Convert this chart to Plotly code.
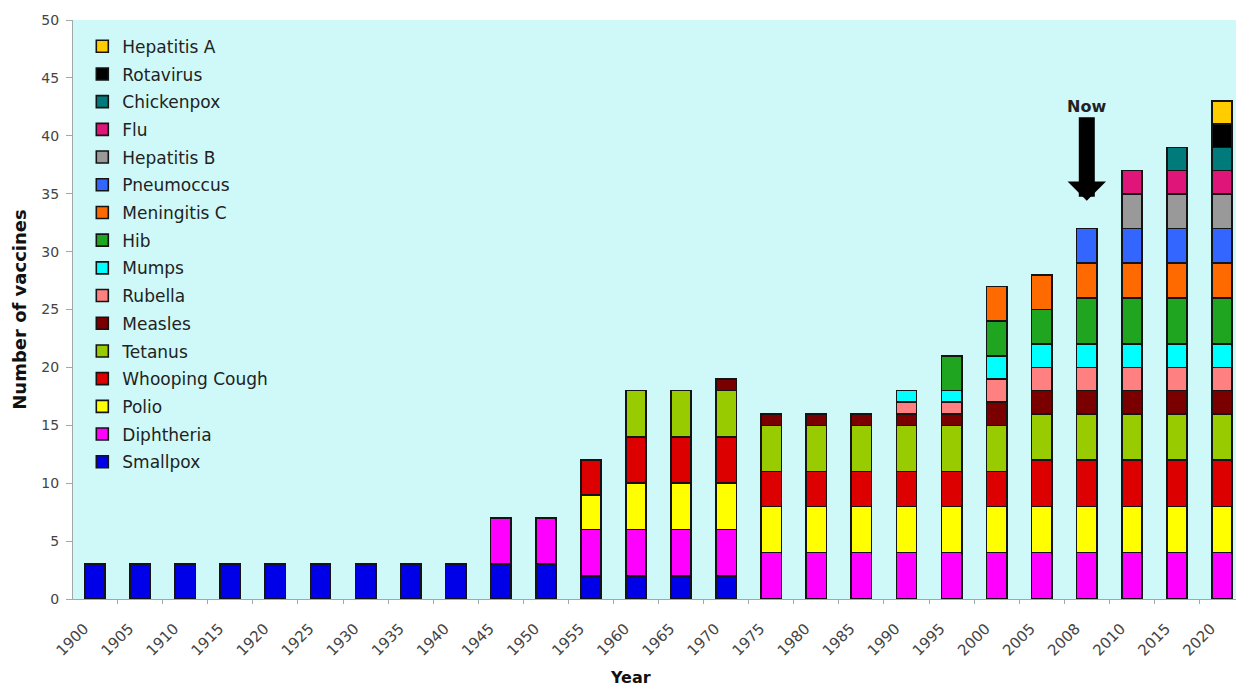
import plotly.graph_objects as go

years = ["1900", "1905", "1910", "1915", "1920", "1925", "1930", "1935", "1940",
         "1945", "1950", "1955", "1960", "1965", "1970",
         "1975", "1980", "1985", "1990", "1995",
         "2000", "2005", "2008", "2010", "2015", "2020"]

smallpox     = [3, 3, 3, 3, 3, 3, 3, 3, 3, 3, 3, 2, 2, 2, 2, 0, 0, 0, 0, 0, 0, 0, 0, 0, 0, 0]
diphtheria   = [0, 0, 0, 0, 0, 0, 0, 0, 0, 4, 4, 4, 4, 4, 4, 4, 4, 4, 4, 4, 4, 4, 4, 4, 4, 4]
polio        = [0, 0, 0, 0, 0, 0, 0, 0, 0, 0, 0, 3, 4, 4, 4, 4, 4, 4, 4, 4, 4, 4, 4, 4, 4, 4]
whooping     = [0, 0, 0, 0, 0, 0, 0, 0, 0, 0, 0, 3, 4, 4, 4, 3, 3, 3, 3, 3, 3, 4, 4, 4, 4, 4]
tetanus      = [0, 0, 0, 0, 0, 0, 0, 0, 0, 0, 0, 0, 4, 4, 4, 4, 4, 4, 4, 4, 4, 4, 4, 4, 4, 4]
measles      = [0, 0, 0, 0, 0, 0, 0, 0, 0, 0, 0, 0, 0, 0, 1, 1, 1, 1, 1, 1, 2, 2, 2, 2, 2, 2]
rubella      = [0, 0, 0, 0, 0, 0, 0, 0, 0, 0, 0, 0, 0, 0, 0, 0, 0, 0, 1, 1, 2, 2, 2, 2, 2, 2]
mumps        = [0, 0, 0, 0, 0, 0, 0, 0, 0, 0, 0, 0, 0, 0, 0, 0, 0, 0, 1, 1, 2, 2, 2, 2, 2, 2]
hib          = [0, 0, 0, 0, 0, 0, 0, 0, 0, 0, 0, 0, 0, 0, 0, 0, 0, 0, 0, 3, 3, 3, 4, 4, 4, 4]
meningitis_c = [0, 0, 0, 0, 0, 0, 0, 0, 0, 0, 0, 0, 0, 0, 0, 0, 0, 0, 0, 0, 3, 3, 3, 3, 3, 3]
pneumoccus   = [0, 0, 0, 0, 0, 0, 0, 0, 0, 0, 0, 0, 0, 0, 0, 0, 0, 0, 0, 0, 0, 0, 3, 3, 3, 3]
hepatitis_b  = [0, 0, 0, 0, 0, 0, 0, 0, 0, 0, 0, 0, 0, 0, 0, 0, 0, 0, 0, 0, 0, 0, 0, 3, 3, 3]
flu          = [0, 0, 0, 0, 0, 0, 0, 0, 0, 0, 0, 0, 0, 0, 0, 0, 0, 0, 0, 0, 0, 0, 0, 2, 2, 2]
chickenpox   = [0, 0, 0, 0, 0, 0, 0, 0, 0, 0, 0, 0, 0, 0, 0, 0, 0, 0, 0, 0, 0, 0, 0, 0, 2, 2]
rotavirus    = [0, 0, 0, 0, 0, 0, 0, 0, 0, 0, 0, 0, 0, 0, 0, 0, 0, 0, 0, 0, 0, 0, 0, 0, 0, 2]
hepatitis_a  = [0, 0, 0, 0, 0, 0, 0, 0, 0, 0, 0, 0, 0, 0, 0, 0, 0, 0, 0, 0, 0, 0, 0, 0, 0, 2]

series_names = ["Smallpox", "Diphtheria", "Polio", "Whooping Cough", "Tetanus", "Measles",
                "Rubella", "Mumps", "Hib", "Meningitis C", "Pneumoccus", "Hepatitis B",
                "Flu", "Chickenpox", "Rotavirus", "Hepatitis A"]
series_values = [smallpox, diphtheria, polio, whooping, tetanus, measles, rubella, mumps,
                 hib, meningitis_c, pneumoccus, hepatitis_b, flu, chickenpox, rotavirus,
                 hepatitis_a]
series_colors = ["#0000E8", "#FF00FF", "#FFFF00", "#DD0000", "#99CC00", "#7A0000",
                 "#FF8080", "#00FFFF", "#1FA51F", "#FF6A00", "#3366FF", "#999999",
                 "#E0157A", "#007A7A", "#000000", "#FFCC00"]

y_ticks = [0, 5, 10, 15, 20, 25, 30, 35, 40, 45, 50]
now_year = "2008"
now_index = years.index(now_year)

fig = go.Figure()
for i, (name, vals, col) in enumerate(zip(series_names, series_values, series_colors)):
    fig.add_trace(go.Bar(
        x=years,
        y=[v if v else None for v in vals],
        name=name,
        legendgroup="g%d" % i,
        legendrank=100 - i,
        marker=dict(color=col, line=dict(color="#141414", width=1.6)),
    ))

fig.add_annotation(x=now_index, y=34.4, xref="x", yref="y", ax=0, ay=-92,
                   showarrow=True, arrowhead=1, arrowwidth=16, arrowsize=0.4,
                   arrowcolor="#000000", text=" ")
fig.add_annotation(x=now_index, y=42.5, xref="x", yref="y", showarrow=False,
                   text="<b>Now</b>", font=dict(family="DejaVu Sans", size=16, color="#222222"))
fig.add_annotation(x=0.479, y=-0.155, xref="paper", yref="paper", showarrow=False,
                   text="<b>Year</b>", font=dict(family="DejaVu Sans", size=16, color="#111111"))

fig.update_layout(
    width=1236, height=688,
    margin=dict(l=73, r=0, t=20, b=89),
    barmode="stack", bargap=0.55,
    paper_bgcolor="#FFFFFF", plot_bgcolor="#CFF9F9",
    font=dict(family="DejaVu Sans", color="#333333"),
    showlegend=True,
    legend=dict(x=0.008, y=0.985, xanchor="left", yanchor="top",
                traceorder="grouped", tracegroupgap=2.6,
                bgcolor="rgba(0,0,0,0)", font=dict(family="DejaVu Sans", size=17, color="#222222")),
    xaxis=dict(type="category", range=[-0.49, 25.31], tickangle=-45,
               tickfont=dict(size=15, color="#444444"), showline=True, linecolor="#A0A8A8",
               ticks="outside", ticklen=4, tickcolor="#A0A8A8", tickson="boundaries",
               ticklabelstandoff=14, ticklabelshift=-11, showgrid=False),
    yaxis=dict(range=[0, 50], tickvals=y_ticks, tickfont=dict(size=14, color="#444444"),
               showline=True, linecolor="#A0A8A8", ticks="outside", ticklen=6,
               tickcolor="#A0A8A8", ticklabelstandoff=4, showgrid=False, zeroline=False,
               title=dict(text="<b>Number of vaccines</b>", font=dict(size=18, color="#111111"),
                          standoff=10)),
)

fig.write_html("out.html")
